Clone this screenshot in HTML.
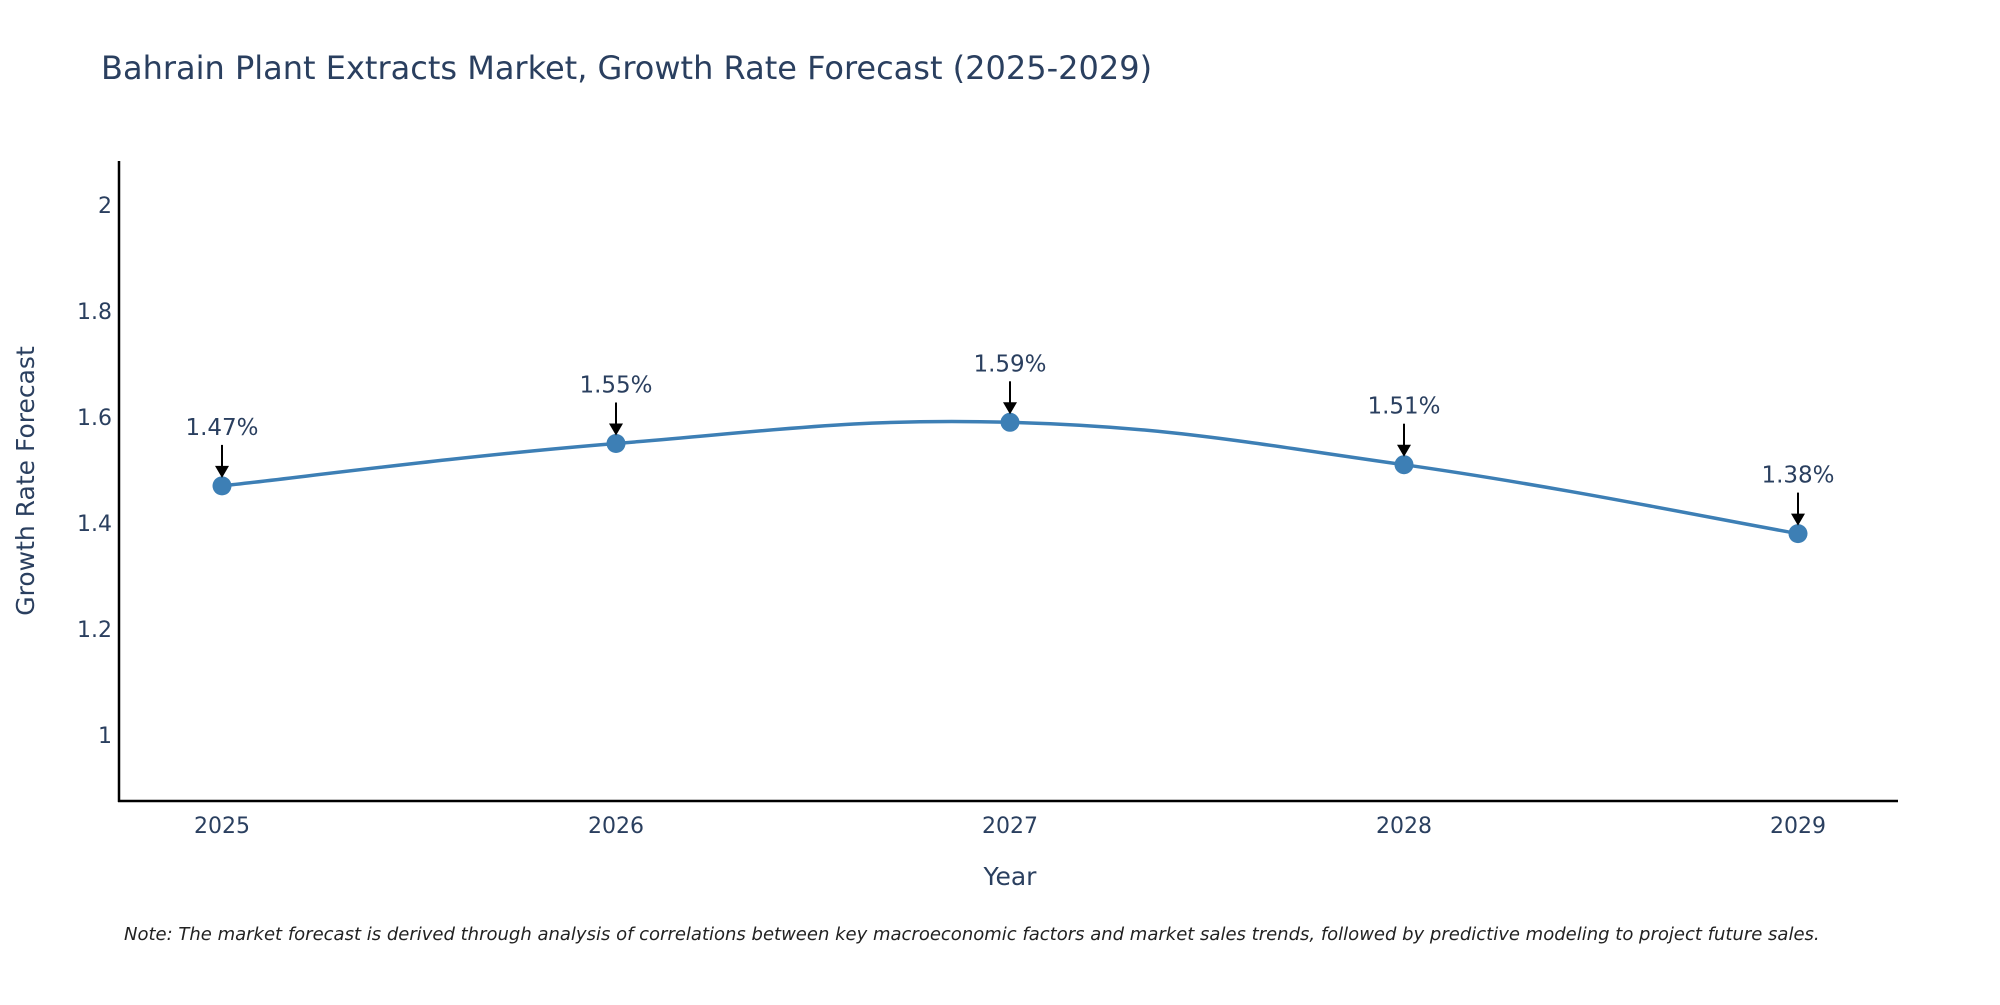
<!DOCTYPE html>
<html><head><meta charset="utf-8"><style>
body{margin:0;background:#fff;}
svg text{font-family:"DejaVu Sans","Liberation Sans",sans-serif;fill:#2a3f5f;}
</style></head><body>
<svg id="chart" width="2000" height="1000" viewBox="0 0 2000 1000" xmlns="http://www.w3.org/2000/svg">
<text x="101" y="79" font-size="32">Bahrain Plant Extracts Market, Growth Rate Forecast (2025-2029)</text>
<g id="yticks"></g>
<g id="xticks"></g>
<line x1="119" y1="161" x2="119" y2="802" stroke="#000" stroke-width="2.5"/>
<line x1="118" y1="801" x2="1898" y2="801" stroke="#000" stroke-width="2.5"/>
<text transform="translate(34,481) rotate(-90)" text-anchor="middle" font-size="25">Growth Rate Forecast</text>
<text x="1010" y="885" text-anchor="middle" font-size="25">Year</text>
<g id="series"></g>
<text x="124" y="940" font-size="18" font-style="italic" style="fill:#222">Note: The market forecast is derived through analysis of correlations between key macroeconomic factors and market sales trends, followed by predictive modeling to project future sales.</text>
</svg>
<script>
const years = [2025, 2026, 2027, 2028, 2029];
const rates = [1.47, 1.55, 1.59, 1.51, 1.38];
const yTickVals = [1, 1.2, 1.4, 1.6, 1.8, 2];
const yTickLabels = ["1", "1.2", "1.4", "1.6", "1.8", "2"];
const NS = "http://www.w3.org/2000/svg";
function xs(yr){ return 222 + (yr - 2025) * 394; }
function ys(v){ return 735 - (v - 1) * 530; }
function mk(tag, attrs, parent){ const e = document.createElementNS(NS, tag); for (const k in attrs) e.setAttribute(k, attrs[k]); parent.appendChild(e); return e; }
const yg = document.getElementById('yticks');
yTickVals.forEach((v, i) => {
  const t = mk('text', {x: 112, y: ys(v) + 8, 'text-anchor': 'end', 'font-size': 22}, yg);
  
  
  t.textContent = yTickLabels[i];
});
const xg = document.getElementById('xticks');
years.forEach(yr => {
  const t = mk('text', {x: xs(yr), y: 833, 'text-anchor': 'middle', 'font-size': 22}, xg);
  
  
  t.textContent = String(yr);
});
const sg = document.getElementById('series');
const pts = years.map((yr, i) => [xs(yr), ys(rates[i])]);
let d = `M${pts[0][0]},${pts[0][1]}`;
for (let i = 0; i < pts.length - 1; i++) {
  const p0 = pts[Math.max(i - 1, 0)], p1 = pts[i], p2 = pts[i + 1], p3 = pts[Math.min(i + 2, pts.length - 1)];
  const s = 0.2;
  const c1 = [p1[0] + (p2[0] - p0[0]) * s, p1[1] + (p2[1] - p0[1]) * s];
  const c2 = [p2[0] - (p3[0] - p1[0]) * s, p2[1] - (p3[1] - p1[1]) * s];
  d += ` C${c1[0]},${c1[1]} ${c2[0]},${c2[1]} ${p2[0]},${p2[1]}`;
}
const line = mk('path', {d: d, fill: 'none', stroke: '#3d7fb5', 'stroke-width': 3.5}, sg);


pts.forEach((p, i) => {
  const c = mk('circle', {cx: p[0], cy: p[1], r: 9.5, fill: '#3d7fb5'}, sg);
  
  
  const a = mk('line', {x1: p[0], y1: p[1] - 41, x2: p[0], y2: p[1] - 18, stroke: '#000', 'stroke-width': 2}, sg);
  
  
  const h = mk('polygon', {points: `${p[0]-7},${p[1]-20} ${p[0]+7},${p[1]-20} ${p[0]},${p[1]-8}`, fill: '#000'}, sg);
  
  
  const t = mk('text', {x: p[0], y: p[1] - 51, 'text-anchor': 'middle', 'font-size': 23}, sg);
  
  
  t.textContent = rates[i].toFixed(2) + '%';
});
</script>
</body></html>
